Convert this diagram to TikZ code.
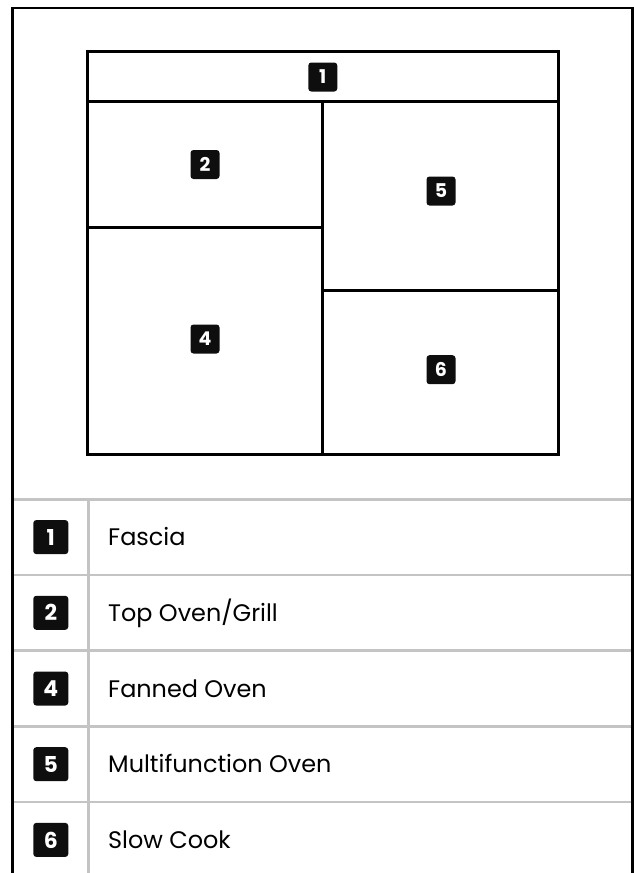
\documentclass[tikz,border=0pt]{standalone}
\usepackage{fontspec}
\setmainfont{Poppins}
\begin{document}
\begin{tikzpicture}[x=1bp,y=-1bp,
  frameline/.style={line width=2.6bp,black},
  boxline/.style={line width=3bp,black,line cap=rect},
  gridline/.style={line width=2.5bp,color={rgb,255:red,196;green,196;blue,196}},
  badge/.style={fill={rgb,255:red,14;green,14;blue,14},rounded corners=3bp,minimum width=29bp,minimum height=29bp,inner sep=0pt,text=white,font=\bfseries\fontsize{19}{19}\selectfont},
  tbadge/.style={badge,minimum width=35bp,minimum height=34bp,font=\bfseries\fontsize{22}{22}\selectfont},
  item/.style={anchor=base west,inner sep=0pt,font=\fontsize{24}{24}\selectfont}]
\useasboundingbox (0,0) rectangle (634,873);
% table grid
\foreach \y in {499.3,575,650.7,726.4,802.1}
  \draw[gridline] (12.7,\y) -- (632.3,\y);
\draw[gridline] (88.5,499.3) -- (88.5,873);
% outer frame
\draw[frameline] (12.7,873) -- (12.7,7.8) -- (632.3,7.8) -- (632.3,873);
% oven layout
\draw[boxline] (87.3,51.7) rectangle (558.5,454);
\draw[boxline] (87.3,101.7) -- (558.5,101.7);
\draw[boxline] (322.7,101.7) -- (322.7,454);
\draw[boxline] (87.3,227.3) -- (322.7,227.3);
\draw[boxline] (322.7,290.7) -- (558.5,290.7);
% badges in layout
\node[badge] (b1) at (322.8,77) {1};
\node[badge] (b2) at (205,164.5) {2};
\node[badge] (b4) at (205,339) {4};
\node[badge] (b5) at (441,191) {5};
\node[badge] (b6) at (441,369.7) {6};
% table rows
\node[tbadge] (t1) at (50.8,537.1) {1};
\node[tbadge] (t2) at (50.8,612.8) {2};
\node[tbadge] (t4) at (50.8,688.5) {4};
\node[tbadge] (t5) at (50.8,764.2) {5};
\node[tbadge] (t6) at (50.8,839.9) {6};
\node[item] (l1) at (108,545.8) {Fascia};
\node[item] (l2) at (108,621.5) {Top Oven/Grill};
\node[item] (l4) at (108,697.2) {Fanned Oven};
\node[item] (l5) at (108,772.9) {Multifunction Oven};
\node[item] (l6) at (108,848.6) {Slow Cook};
\end{tikzpicture}
\end{document}
